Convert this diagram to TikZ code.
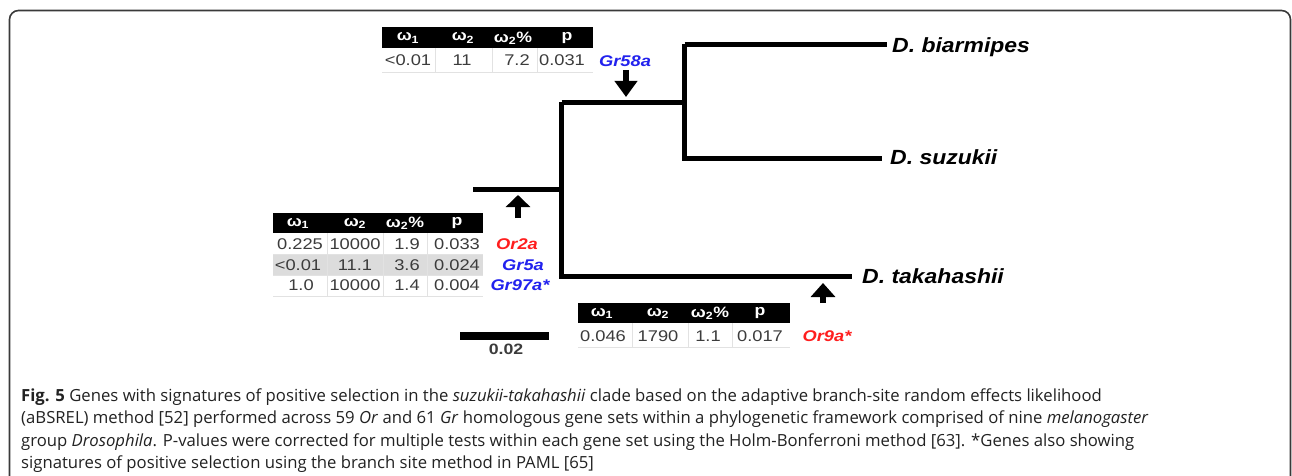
\documentclass[tikz,border=0pt]{standalone}
\usepackage{fontspec}
\setmainfont{Liberation Sans}
\newfontfamily\capfont{Open Sans}
\usepackage{graphicx}
\usetikzlibrary{arrows.meta}
\definecolor{framegray}{HTML}{3A3A3A}
\definecolor{cellgray}{HTML}{3C3C3C}
\definecolor{rowgray}{HTML}{DCDCDC}
\definecolor{linegray}{HTML}{E2E2E2}
\definecolor{genered}{HTML}{FF1E1E}
\definecolor{geneblue}{HTML}{2222EE}
\definecolor{captext}{HTML}{222222}
\newcommand{\wx}[1]{\scalebox{1.18}[1]{#1}}
\newcommand{\wsp}[1]{\scalebox{1.12}[1]{#1}}
\newcommand{\om}[1]{ω\textsubscript{#1}}
\begin{document}
\begin{tikzpicture}[x=1pt,y=-1pt,
  branch/.style={line width=5pt, line join=miter},
  hdr/.style={text=white, inner sep=0pt, font=\fontsize{15}{15}\selectfont\bfseries},
  cell/.style={text=cellgray, inner sep=0pt, font=\fontsize{15.5}{15.5}\selectfont},
  gene/.style={inner sep=0pt, font=\fontsize{15.5}{15.5}\selectfont\bfseries\itshape},
  species/.style={inner sep=0pt, anchor=base west, font=\fontsize{20.5}{20.5}\selectfont\bfseries\itshape},
  marker/.style={line width=6pt},
  sep/.style={linegray, line width=0.8pt},
  captxt/.style={inner sep=0pt, anchor=base west, text=captext, font=\capfont\fontsize{16.7}{16.7}\selectfont}
]
\useasboundingbox (0,0) rectangle (1292,476);
\fill[white] (0,0) rectangle (1292,476);
% frame
\draw[framegray, line width=1.6pt, rounded corners=9pt] (9.5,495) -- (9.5,10.5) -- (1290.5,10.5) -- (1290.5,495);

% ---------------- tree ----------------
\coordinate (root) at (473,189.5);
\coordinate (A) at (561.5,189.5);
\coordinate (B) at (684.5,102.5);
\coordinate (Bt) at (561.5,102.5);
\coordinate (eBia) at (887,44.5);
\coordinate (eSuz) at (882,158);
\coordinate (eTak) at (852,276);
\draw[branch] (root) -- (A);
\draw[branch] (Bt) -- (B);
\draw[branch] (Bt) |- (eTak);
\draw[branch] (B |- eBia) -- (eBia);
\draw[branch] (B |- eBia) |- (eSuz);

\node[species] (sBia) at (892,53) {\wsp{D. biarmipes}};
\node[species] (sSuz) at (890,164.5) {\wsp{D. suzukii}};
\node[species] (sTak) at (862,283) {\wsp{D. takahashii}};

% markers (arrows)
\coordinate (m1s) at (626,70);  \coordinate (m1t) at (626,97);
\coordinate (m2s) at (518,218); \coordinate (m2t) at (518,195);
\coordinate (m3s) at (823,303); \coordinate (m3t) at (823,283);
\draw[marker, -{Triangle[width=22pt,length=16pt]}] (m1s) -- (m1t);
\draw[marker, -{Triangle[width=24pt,length=12pt]}] (m2s) -- (m2t);
\draw[marker, -{Triangle[width=24pt,length=14pt]}] (m3s) -- (m3t);

% ---------------- top table ----------------
\fill[black] (382,27) rectangle (593,48);
\draw[sep] (382,72) -- (593,72);
\draw[sep] (435,48) -- (435,72);
\draw[sep] (492,48) -- (492,72);
\draw[sep] (537,48) -- (537,72);
\node[hdr] (th1) at (408,38) {\wx{\om{1}}};
\node[hdr] (th2) at (463,38) {\wx{\om{2}}};
\node[hdr] (th3) at (513,38) {\wx{\om{2}\%}};
\node[hdr] (th4) at (567,38) {\wx{p}};
\node[cell] (td1) at (408,60.5) {\wx{<0.01}};
\node[cell] (td2) at (462,60.5) {\wx{11}};
\node[cell] (td3) at (517,60.5) {\wx{7.2}};
\node[cell] (td4) at (562,60.5) {\wx{0.031}};
\node[gene, text=geneblue] (gGr58a) at (625,61) {\wx{Gr58a}};

% ---------------- left table ----------------
\fill[black] (273,213) rectangle (483,233);
\fill[rowgray] (273,254) rectangle (483,275);
\foreach \yy in {254,275,296} \draw[sep] (273,\yy) -- (483,\yy);
\foreach \xx in {327,383,427} \draw[sep] (\xx,233) -- (\xx,296);
\node[hdr] (lh1) at (298,223.5) {\wx{\om{1}}};
\node[hdr] (lh2) at (355,223.5) {\wx{\om{2}}};
\node[hdr] (lh3) at (405,223.5) {\wx{\om{2}\%}};
\node[hdr] (lh4) at (457,223.5) {\wx{p}};
\node[cell] (la1) at (300,244) {\wx{0.225}};
\node[cell] (la2) at (355,244) {\wx{10000}};
\node[cell] (la3) at (407,244) {\wx{1.9}};
\node[cell] (la4) at (457,244) {\wx{0.033}};
\node[cell] (lb1) at (298,265) {\wx{<0.01}};
\node[cell] (lb2) at (355,265) {\wx{11.1}};
\node[cell] (lb3) at (407,265) {\wx{3.6}};
\node[cell] (lb4) at (457,265) {\wx{0.024}};
\node[cell] (lc1) at (301,285.5) {\wx{1.0}};
\node[cell] (lc2) at (355,285.5) {\wx{10000}};
\node[cell] (lc3) at (407,285.5) {\wx{1.4}};
\node[cell] (lc4) at (457,285.5) {\wx{0.004}};
\node[gene, text=genered] (gOr2a) at (517,244) {\wx{Or2a}};
\node[gene, text=geneblue] (gGr5a) at (523,265) {\wx{Gr5a}};
\node[gene, text=geneblue] (gGr97a) at (520,285.5) {\wx{Gr97a*}};

% ---------------- bottom table ----------------
\fill[black] (578,303) rectangle (790,323);
\draw[sep] (578,347) -- (790,347);
\foreach \xx in {632,688,732} \draw[sep] (\xx,323) -- (\xx,347);
\node[hdr] (bh1) at (602,313.5) {\wx{\om{1}}};
\node[hdr] (bh2) at (658,313.5) {\wx{\om{2}}};
\node[hdr] (bh3) at (710,313.5) {\wx{\om{2}\%}};
\node[hdr] (bh4) at (760,313.5) {\wx{p}};
\node[cell] (bd1) at (603,336) {\wx{0.046}};
\node[cell] (bd2) at (658,336) {\wx{1790}};
\node[cell] (bd3) at (708,336) {\wx{1.1}};
\node[cell] (bd4) at (760,336) {\wx{0.017}};
\node[gene, text=genered] (gOr9a) at (827,336.5) {\wx{Or9a*}};

% ---------------- scale bar ----------------
\coordinate (sb1) at (460,336);
\coordinate (sb2) at (549,336);
\draw[line width=8pt] (sb1) -- (sb2);
\node[inner sep=0pt, font=\fontsize{15}{15}\selectfont\bfseries, text=cellgray] (sblab) at (506,349.5) {\wx{0.02}};

% ---------------- caption ----------------
\node[captxt] (cap1) at (21,401) {\textbf{Fig. 5} Genes with signatures of positive selection in the \textit{suzukii-takahashii} clade based on the adaptive branch-site random effects likelihood};
\node[captxt] (cap2) at (21,423.5) {(aBSREL) method [52] performed across 59 \textit{Or} and 61 \textit{Gr} homologous gene sets within a phylogenetic framework comprised of nine \textit{melanogaster}};
\node[captxt] (cap3) at (21,446) {group \textit{Drosophila}. P-values were corrected for multiple tests within each gene set using the Holm-Bonferroni method [63]. *Genes also showing};
\node[captxt] (cap4) at (21,468.5) {signatures of positive selection using the branch site method in PAML [65]};
\end{tikzpicture}
\end{document}
